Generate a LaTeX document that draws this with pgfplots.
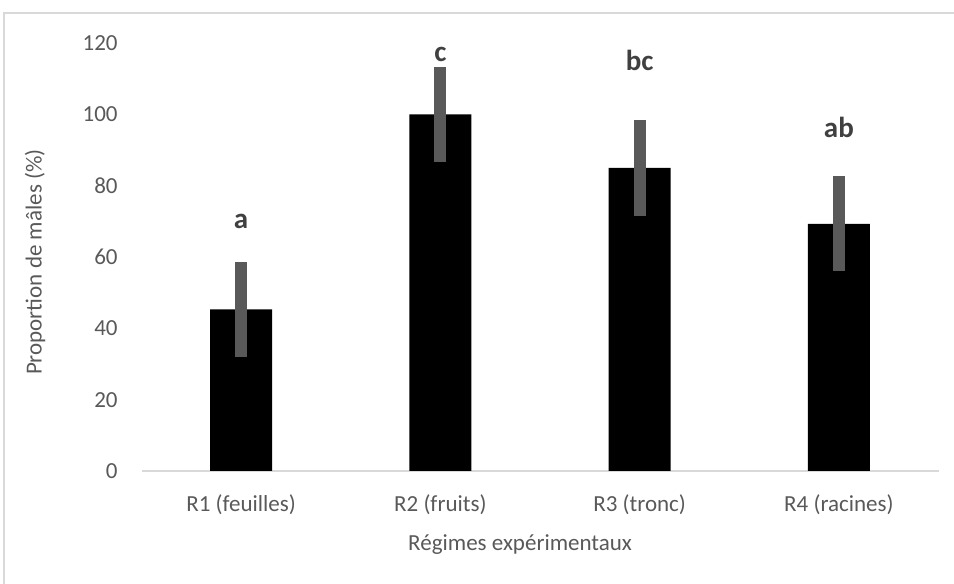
\documentclass[border=0pt]{standalone}
\usepackage{pgfplots}
\pgfplotsset{compat=1.18}
\usepackage{fontspec}
\setmainfont{Carlito}
\definecolor{txt}{HTML}{595959}
\definecolor{errc}{HTML}{595959}
\definecolor{lett}{HTML}{404040}
\definecolor{frm}{HTML}{D9D9D9}
\begin{document}
\begin{tikzpicture}
\useasboundingbox (0,0) rectangle (477pt,292pt);
\draw[frm, line width=0.75pt] (2pt,-5pt) -- (2pt,285.5pt) -- (485pt,285.5pt);
\begin{axis}[
  anchor=south west, at={(70.75pt,56.5pt)},
  scale only axis, width=398.5pt, height=214pt,
  xmin=-0.5, xmax=3.5, ymin=0, ymax=120,
  ybar, bar width=31pt,
  clip=false,
  xtick={0,1,2,3},
  xticklabels={R1 (feuilles),R2 (fruits),R3 (tronc),R4 (racines)},
  ytick={0,20,40,60,80,100,120},
  axis line style={draw=none},
  major tick length=0pt,
  /pgf/number format/assume math mode=true,
  tick label style={font=\fontsize{11.5}{13}\selectfont, text=txt},
  yticklabel style={anchor=east, inner sep=0pt, xshift=-11.75pt},
  xticklabel style={anchor=north, inner sep=0pt, yshift=-11.5pt},
  xlabel={Régimes expérimentaux},
  ylabel={Proportion de mâles (\%)},
  label style={font=\fontsize{11.5}{13}\selectfont, text=txt},
  xlabel style={at={(axis description cs:0.475,-0.1869)}, anchor=base, inner sep=0pt},
  ylabel style={at={(axis description cs:-0.1336,0.488)}, anchor=center, inner sep=0pt},
]
\draw[frm, line width=0.75pt] (axis cs:-0.5,0) -- (axis cs:3.5,0);
\addplot[fill=black, draw=none,
  error bars/.cd, y dir=both, y explicit, error mark=none,
  error bar style={draw=errc, line width=6pt}]
  coordinates {(0,45.3) +- (0,13.3) (1,100) +- (0,13.3) (2,85) +- (0,13.4) (3,69.3) +- (0,13.3)};
\node[anchor=base, font=\bfseries\fontsize{14.5}{16}\selectfont, text=lett] at (axis cs:0,68.1) {a};
\node[anchor=base, font=\bfseries\fontsize{14.5}{16}\selectfont, text=lett] at (axis cs:1,114.7) {c};
\node[anchor=base, font=\bfseries\fontsize{14.5}{16}\selectfont, text=lett] at (axis cs:2,112.4) {bc};
\node[anchor=base, font=\bfseries\fontsize{14.5}{16}\selectfont, text=lett] at (axis cs:3,93.6) {ab};
\end{axis}
\end{tikzpicture}
\end{document}
